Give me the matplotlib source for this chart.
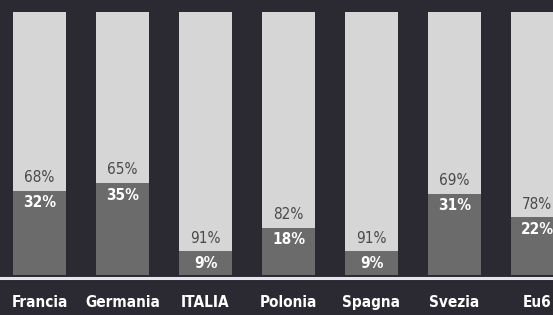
import matplotlib.pyplot as plt
import numpy as np

paesi = ['Francia', 'Germania', 'ITALIA', 'Polonia', 'Spagna', 'Svezia', 'Eu6']
quota_bassa = [32, 35, 9, 18, 9, 31, 22]
quota_alta = [68, 65, 91, 82, 91, 69, 78]

bg = '#2b2a32'
chiaro = '#d6d6d6'
scuro = '#6b6b6b'

fig = plt.figure(figsize=(5.53, 3.15), dpi=100)
fig.patch.set_facecolor(bg)
ax = fig.add_axes([0, 0, 1, 1])
ax.set_facecolor(bg)

x = np.arange(len(paesi))
w = 0.65
ax.bar(x, quota_bassa, width=w, color=scuro)
ax.bar(x, quota_alta, width=w, bottom=quota_bassa, color=chiaro)

ax.axhline(-1.0, color='#e8e4ee', lw=2.2)

font = ['DejaVu Sans']
for i in range(len(paesi)):
    b = quota_bassa[i]
    ax.text(x[i], b + 5, f'{quota_alta[i]}%', ha='center', va='center',
            fontsize=11, color='#4a4a4a', family=font, fontstretch='condensed')
    ax.text(x[i], b - 4.6, f'{b}%', ha='center', va='center',
            fontsize=11, color='white', fontweight='bold', family=font,
            fontstretch='condensed')
    ax.text(x[i], -10.6, paesi[i], ha='center', va='center',
            fontsize=11, color='white', fontweight='bold', family=font,
            fontstretch='condensed')

ax.set_xlim(-0.476, 6.187)
ax.set_ylim(-15.2, 104.6)
ax.axis('off')

fig.savefig('out.png', dpi=100, facecolor=bg)
